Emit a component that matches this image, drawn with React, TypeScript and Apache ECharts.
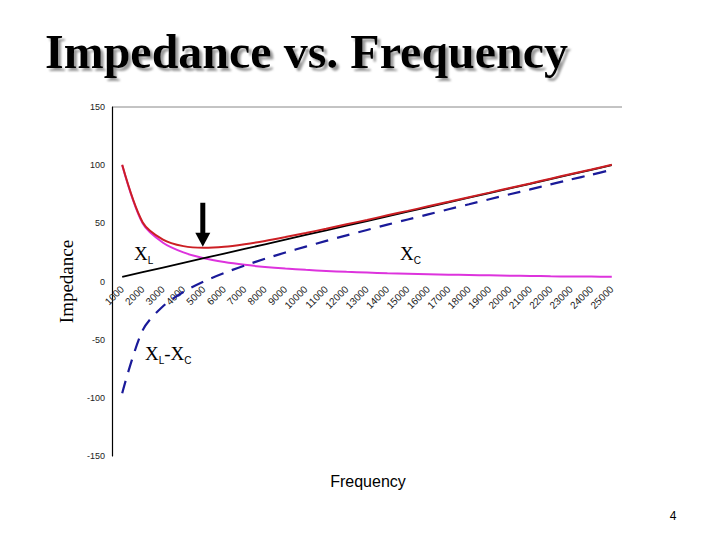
import React, { useEffect, useRef } from "react";
import * as echarts from "echarts";

const categories = [
  "1000", "2000", "3000", "4000", "5000", "6000", "7000", "8000", "9000", "10000",
  "11000", "12000", "13000", "14000", "15000", "16000", "17000", "18000", "19000", "20000",
  "21000", "22000", "23000", "24000", "25000",
];
const xL = [4, 8, 12, 16, 20, 24, 28, 32, 36, 40, 44, 48, 52, 56, 60, 64, 68, 72, 76, 80, 84, 88, 92, 96, 100];
const xC = [100, 50, 33.3, 25, 20, 16.7, 14.3, 12.5, 11.1, 10, 9.1, 8.3, 7.7, 7.1, 6.7, 6.3, 5.9, 5.6, 5.3, 5, 4.8, 4.5, 4.3, 4.2, 4];
const xLminusXC = [-96, -42, -21.3, -9, 0, 7.3, 13.7, 19.5, 24.9, 30, 34.9, 39.7, 44.3, 48.9, 53.3, 57.7, 62.1, 66.4, 70.7, 75, 79.2, 83.5, 87.7, 91.8, 96];
const impedance = [100.3, 51, 36, 30.4, 29, 29.9, 32.1, 34.9, 38.2, 41.7, 45.4, 49.2, 52.9, 56.9, 60.7, 64.6, 68.5, 72.5, 76.4, 80.4, 84.3, 88.4, 92.4, 96.3, 100.3];
const yTicks = { min: -150, max: 150, interval: 50 };

export default function App() {
  const ref = useRef<HTMLDivElement>(null);
  useEffect(() => {
    if (!ref.current) return;
    const chart = echarts.init(ref.current, null, { renderer: "svg" });
    const serif = "'Liberation Serif', 'Times New Roman', serif";
    const sans = "'Liberation Sans', Arial, sans-serif";
    const sub = (color: string) => ({
      x: { fontFamily: serif, fontSize: 19, color },
      s: { fontFamily: sans, fontSize: 10, color, verticalAlign: "bottom" as const, padding: [0, 0, -2, 0] },
    });
    const gridTop = 107;
    const gridBottom = 84;
    const plotH = 540 - gridTop - gridBottom;
    const zeroFromBottom = (plotH * (0 - yTicks.min)) / (yTicks.max - yTicks.min);
    chart.setOption({
      animation: false,
      backgroundColor: "#ffffff",
      title: {
        text: "Impedance vs. Frequency",
        left: 40,
        top: 22,
        textStyle: {
          fontFamily: serif,
          fontWeight: "bold",
          fontSize: 48,
          color: "#000",
          textShadowColor: "rgba(120,120,120,0.75)",
          textShadowOffsetX: 3,
          textShadowOffsetY: 3,
          textShadowBlur: 2,
        },
      },
      grid: { left: 112, right: 98, top: gridTop, bottom: gridBottom },
      xAxis: {
        type: "category",
        data: categories,
        boundaryGap: true,
        position: "bottom",
        offset: -zeroFromBottom,
        axisLine: { show: false, onZero: false },
        axisTick: { show: false },
        axisLabel: {
          interval: 0,
          rotate: 45,
          fontSize: 10,
          fontFamily: sans,
          color: "#222",
          margin: 6,
        },
        splitLine: { show: false },
      },
      yAxis: {
        type: "value",
        min: yTicks.min,
        max: yTicks.max,
        interval: yTicks.interval,
        name: "Impedance",
        nameLocation: "middle",
        nameGap: 36,
        nameTextStyle: { fontFamily: serif, fontSize: 19, color: "#000" },
        axisLine: { show: true, lineStyle: { color: "#000", width: 1.2 } },
        axisTick: { show: false },
        axisLabel: { fontSize: 9, fontFamily: sans, color: "#222", margin: 7 },
        splitLine: { show: false },
      },
      series: [
        {
          name: "XC",
          type: "line",
          data: xC,
          smooth: 0.3,
          symbol: "none",
          lineStyle: { color: "#dd33dd", width: 2 },
          z: 2,
        },
        {
          name: "XL",
          type: "line",
          data: xL,
          symbol: "none",
          lineStyle: { color: "#000000", width: 1.8 },
          z: 3,
        },
        {
          name: "XL-XC",
          type: "line",
          data: xLminusXC,
          smooth: 0.3,
          symbol: "none",
          lineStyle: { color: "#1a1a99", width: 2.2, type: [13, 9] },
          z: 4,
        },
        {
          name: "Z",
          type: "line",
          data: impedance,
          smooth: 0.3,
          symbol: "none",
          lineStyle: { color: "#cc1f24", width: 2 },
          z: 5,
        },
      ],
    });

    const tip = chart.convertToPixel({ gridIndex: 0 }, ["5000", impedance[4]]) as number[];
    const ax = tip[0] - 1;
    const ay = tip[1] - 1;
    chart.setOption({
      graphic: [
        { type: "line", shape: { x1: 112, y1: 107, x2: 622, y2: 107 }, style: { stroke: "#888", lineWidth: 1 } },
        { type: "rect", shape: { x: ax - 2.5, y: ay - 44, width: 5, height: 31 }, style: { fill: "#000" } },
        {
          type: "polygon",
          shape: { points: [[ax - 7.5, ay - 14], [ax + 7.5, ay - 14], [ax, ay]] },
          style: { fill: "#000" },
        },
        {
          type: "text",
          x: 134,
          y: 244,
          style: { text: "{x|X}{s|L}", rich: sub("#000") },
        },
        {
          type: "text",
          x: 400,
          y: 244,
          style: { text: "{x|X}{s|C}", rich: sub("#cc22cc") },
        },
        {
          type: "text",
          x: 145,
          y: 344,
          style: { text: "{x|X}{s|L}{x|-X}{s|C}", rich: sub("#1a1a99") },
        },
        {
          type: "text",
          x: 368,
          y: 481,
          style: {
            text: "Frequency",
            fontFamily: sans,
            fontSize: 16,
            fill: "#000",
            align: "center",
            verticalAlign: "middle",
          },
        },
        {
          type: "text",
          x: 673,
          y: 516,
          style: {
            text: "4",
            fontFamily: sans,
            fontSize: 12,
            fill: "#000",
            align: "center",
            verticalAlign: "middle",
          },
        },
      ],
    });
    return () => chart.dispose();
  }, []);
  return (
    <div
      ref={ref}
      style={{ position: "fixed", left: 0, top: 0, width: 720, height: 540, background: "#fff" }}
    />
  );
}
